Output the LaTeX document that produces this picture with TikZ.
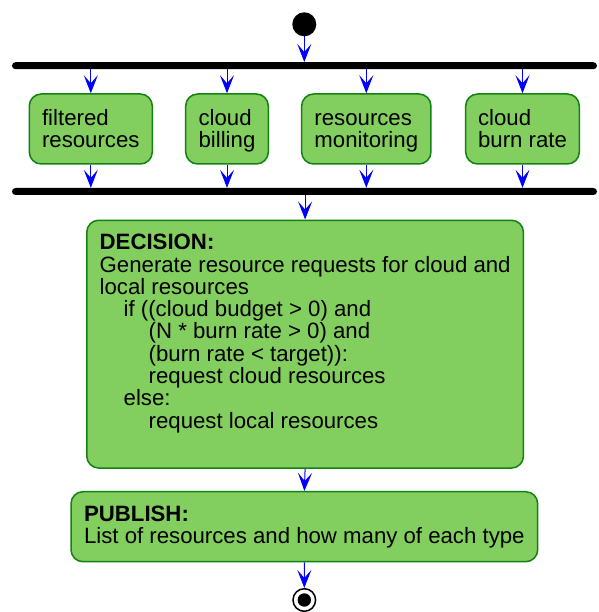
\documentclass[tikz,border=0pt]{standalone}
\usepackage{fontspec}
\setmainfont{Liberation Sans}
\usetikzlibrary{arrows.meta}
\definecolor{boxfill}{RGB}{130,206,94}
\definecolor{boxline}{RGB}{18,130,18}
\newcommand{\highstrut}{\rule{0pt}{21pt}}
\tikzset{
  txt/.style={font=\fontsize{22.2}{22.3}\selectfont},
  box/.style={txt, draw=boxline, fill=boxfill, line width=1.5pt, rounded corners=12pt, inner sep=2pt, align=left},
  bar/.style={fill=black, rounded corners=3.5pt, inner sep=0pt, minimum width=585pt, minimum height=7pt},
  arr/.style={draw=blue, line width=1pt, -{Stealth[length=18pt,width=14pt,inset=8pt]}},
}
\begin{document}
\begin{tikzpicture}[x=1pt,y=-1pt]
\useasboundingbox (0,0) rectangle (598,612);
% start
\node[circle, fill=black, minimum size=24pt, inner sep=0pt] (start) at (304.3,24.3) {};
% bars
\node[bar] (fork) at (304.5,65.7) {};
\node[bar] (join) at (304.5,191.5) {};
% parallel boxes
\node[box, minimum width=123pt, minimum height=70pt] (b1) at (90.8,129) {\highstrut filtered\\resources\strut};
\node[box, minimum width=82.6pt, minimum height=70pt] (b2) at (227,129) {\highstrut cloud\\billing\strut};
\node[box, minimum width=129.3pt, minimum height=70pt] (b3) at (366.3,129) {\highstrut resources\\monitoring\strut};
\node[box, minimum width=113.6pt, minimum height=70pt] (b4) at (522.5,129) {\highstrut cloud\\burn rate\strut};
% decision
\node[box, minimum width=436.7pt, minimum height=247.8pt, anchor=north west] (dec) at (86,219.5) {};
\node[txt, anchor=north west, inner sep=0pt, align=left] (dectext) at (99.5,234) {%
\textbf{DECISION:}\\
Generate resource requests for cloud and\\
local resources\\
\hspace*{24pt}if ((cloud budget > 0) and\\
\hspace*{49pt}(N * burn rate > 0) and\\
\hspace*{49pt}(burn rate < target)):\\
\hspace*{49pt}request cloud resources\\
\hspace*{24pt}else:\\
\hspace*{49pt}request local resources};
% publish
\node[box, minimum width=466.7pt, minimum height=70pt] (pub) at (304.35,526.7) {\textbf{PUBLISH:}\\List of resources and how many of each type};
% end
\node[circle, draw=black, line width=1.5pt, fill=white, minimum size=22.6pt, inner sep=0pt] (end) at (304.3,600) {};
\node[circle, fill=black, minimum size=13.4pt, inner sep=0pt] (endin) at (end.center) {};
% connectors
\draw[arr] (start.south) -- (fork.north -| start.south);
\foreach \b in {b1,b2,b3,b4} {
  \draw[arr] (fork.south -| \b.north) -- (\b.north);
  \draw[arr] (\b.south) -- (join.north -| \b.south);
}
\draw[arr] (join.south -| dec.north) -- (dec.north);
\draw[arr] (dec.south) -- (pub.north);
\draw[arr] (pub.south) -- (end.north);
\end{tikzpicture}
\end{document}
